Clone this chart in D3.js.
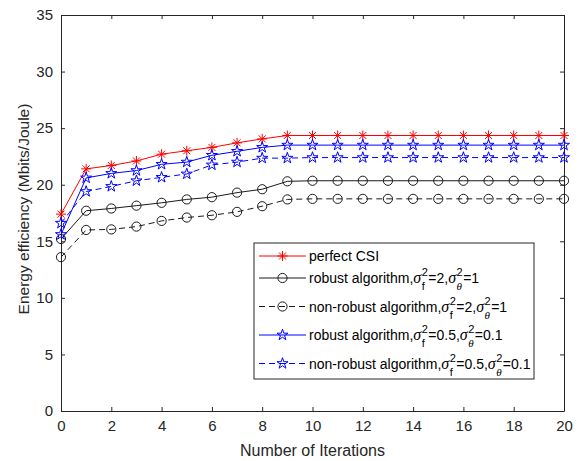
<!DOCTYPE html>
<meta charset="utf-8">
<style>
  body { margin: 0; background: #fff; }
  svg { display: block; font-family: "Liberation Sans", Arial, sans-serif; }
  .axis text { fill: #262626; font-size: 15px; }
  .axis path, .axis line { stroke: #262626; }
</style>
<body>
<script src="https://cdn.jsdelivr.net/npm/d3@7"></script>
<script>
  'use strict';

  // chart values
  const iterations = [0, 1, 2, 3, 4, 5, 6, 7, 8, 9, 10, 11, 12, 13, 14, 15, 16, 17, 18, 19, 20];
  const perfectCSI = [17.4, 21.4, 21.7, 22.1, 22.7, 23.0, 23.3, 23.7, 24.05, 24.35, 24.35, 24.35, 24.35, 24.35, 24.35, 24.35, 24.35, 24.35, 24.35, 24.35, 24.35];
  const robustHigh = [15.2, 17.7, 17.9, 18.15, 18.4, 18.7, 18.9, 19.3, 19.6, 20.3, 20.35, 20.35, 20.35, 20.35, 20.35, 20.35, 20.35, 20.35, 20.35, 20.35, 20.35];
  const nonRobustHigh = [13.6, 16.0, 16.05, 16.3, 16.8, 17.1, 17.3, 17.6, 18.1, 18.7, 18.75, 18.75, 18.75, 18.75, 18.75, 18.75, 18.75, 18.75, 18.75, 18.75, 18.75];
  const robustLow = [15.6, 20.6, 21.0, 21.25, 21.8, 22.0, 22.6, 22.95, 23.3, 23.5, 23.5, 23.5, 23.5, 23.5, 23.5, 23.5, 23.5, 23.5, 23.5, 23.5, 23.5];
  const nonRobustLow = [16.6, 19.4, 19.85, 20.35, 20.65, 20.95, 21.75, 22.0, 22.35, 22.35, 22.4, 22.4, 22.4, 22.4, 22.4, 22.4, 22.4, 22.4, 22.4, 22.4, 22.4];
  const xTicks = [0, 2, 4, 6, 8, 10, 12, 14, 16, 18, 20];
  const yTicks = [0, 5, 10, 15, 20, 25, 30, 35];

  const series = [
    {values: perfectCSI, color: "#ff0000", dash: null, marker: "asterisk", sf: null, st: null, name: "perfect CSI"},
    {values: robustHigh, color: "#1a1a1a", dash: null, marker: "circle", sf: "2", st: "1", name: "robust algorithm,"},
    {values: nonRobustHigh, color: "#1a1a1a", dash: "6,4", marker: "circle", sf: "2", st: "1", name: "non-robust algorithm,"},
    {values: robustLow, color: "#0000ff", dash: null, marker: "star", sf: "0.5", st: "0.1", name: "robust algorithm,"},
    {values: nonRobustLow, color: "#0000ff", dash: "6,4", marker: "star", sf: "0.5", st: "0.1", name: "non-robust algorithm,"}
  ];

  const margin = {top: 15, right: 17, bottom: 50, left: 61},
        width = 581 - margin.left - margin.right,
        height = 461 - margin.top - margin.bottom;

  const x = d3.scaleLinear().domain([0, 20]).range([0, width]);
  const y = d3.scaleLinear().domain([0, 35]).range([height, 0]);

  const svg = d3.select("body").append("svg")
        .attr("width", 581)
        .attr("height", 461);

  const g = svg.append("g")
        .attr("transform", `translate(${margin.left},${margin.top})`);

  // axes with inward ticks, mirrored on top and right
  g.append("g").attr("class", "axis")
    .attr("transform", `translate(0,${height})`)
    .call(d3.axisBottom(x).tickValues(xTicks).tickSizeInner(-4).tickSizeOuter(0).tickPadding(9));
  g.append("g").attr("class", "axis")
    .call(d3.axisTop(x).tickValues(xTicks).tickSizeInner(-4).tickSizeOuter(0).tickFormat(""));
  g.append("g").attr("class", "axis")
    .call(d3.axisLeft(y).tickValues(yTicks).tickSizeInner(-4).tickSizeOuter(0).tickPadding(8));
  g.append("g").attr("class", "axis")
    .attr("transform", `translate(${width},0)`)
    .call(d3.axisRight(y).tickValues(yTicks).tickSizeInner(-4).tickSizeOuter(0).tickFormat(""));

  svg.append("text")
    .attr("x", margin.left + width / 2)
    .attr("y", 456)
    .attr("text-anchor", "middle")
    .attr("fill", "#262626")
    .style("font-size", "16px")
    .text("Number of Iterations");

  svg.append("text")
    .attr("transform", `translate(29,${margin.top + height / 2 - 4}) rotate(-90)`)
    .attr("text-anchor", "middle")
    .attr("fill", "#262626")
    .style("font-size", "15.5px")
    .text("Energy efficiency (Mbits/Joule)");

  const asterisk = "M0,-5V5M-5,0H5M-3.5,-3.5L3.5,3.5M-3.5,3.5L3.5,-3.5";
  const markerPath = {
    asterisk: asterisk,
    circle: d3.symbol().type(d3.symbolCircle).size(Math.PI * 4.6 * 4.6)(),
    star: d3.symbol().type(d3.symbolStar).size(38)()
  };

  const line = d3.line()
        .x((d, i) => x(iterations[i]))
        .y(d => y(d));

  series.forEach(s => {
    g.append("path")
      .datum(s.values)
      .attr("fill", "none")
      .attr("stroke", s.color)
      .attr("stroke-width", 1)
      .attr("stroke-dasharray", s.dash)
      .attr("d", line);
    g.selectAll(null)
      .data(s.values)
      .enter().append("path")
      .attr("transform", (d, i) => `translate(${x(iterations[i])},${y(d)})`)
      .attr("d", markerPath[s.marker])
      .attr("fill", "none")
      .attr("stroke", s.color)
      .attr("stroke-width", 1);
  });

  // legend
  const lg = svg.append("g").attr("transform", "translate(254,243)");
  lg.append("rect")
    .attr("width", 280)
    .attr("height", 136)
    .attr("fill", "#fff")
    .attr("stroke", "#262626")
    .attr("stroke-width", 1);

  const serif = "'Liberation Serif', 'DejaVu Serif', serif";

  // place pieces of a label one after another; sup/sub share the same x slot
  function piece(row, cx, str, opts) {
    const t = row.append("text")
      .attr("x", cx)
      .attr("y", opts.y)
      .attr("fill", "#000")
      .style("font-size", opts.size + "px")
      .text(str);
    if (opts.italic) t.attr("font-style", "italic").attr("font-family", serif);
    return t.node().getComputedTextLength();
  }

  const rowY = [13, 35, 63.5, 92, 120.5];
  series.forEach((s, i) => {
    const row = lg.append("g").attr("transform", `translate(0,${rowY[i]})`);
    row.append("line")
      .attr("x1", 5).attr("x2", 52)
      .attr("stroke", s.color)
      .attr("stroke-width", 1)
      .attr("stroke-dasharray", s.dash);
    row.append("path")
      .attr("transform", "translate(28.5,0)")
      .attr("d", markerPath[s.marker])
      .attr("fill", "none")
      .attr("stroke", s.color);

    let cx = 55;
    cx += piece(row, cx, s.name, {y: 5, size: 14});
    if (s.sf) {
      [[s.sf, false, ","], [s.st, true, ""]].forEach(([val, thetaSub, tail]) => {
        cx += piece(row, cx, "σ", {y: 5, size: 16, italic: true}) + 0.5;
        const w1 = piece(row, cx, "2", {y: -2, size: 11});
        const w2 = piece(row, cx, thetaSub ? "θ" : "f", {y: 12, size: 11, italic: thetaSub});
        cx += Math.max(w1, w2) + 0.5;
        cx += piece(row, cx, "=" + val + tail, {y: 5, size: 14});
      });
    }
  });
</script>
</body>
